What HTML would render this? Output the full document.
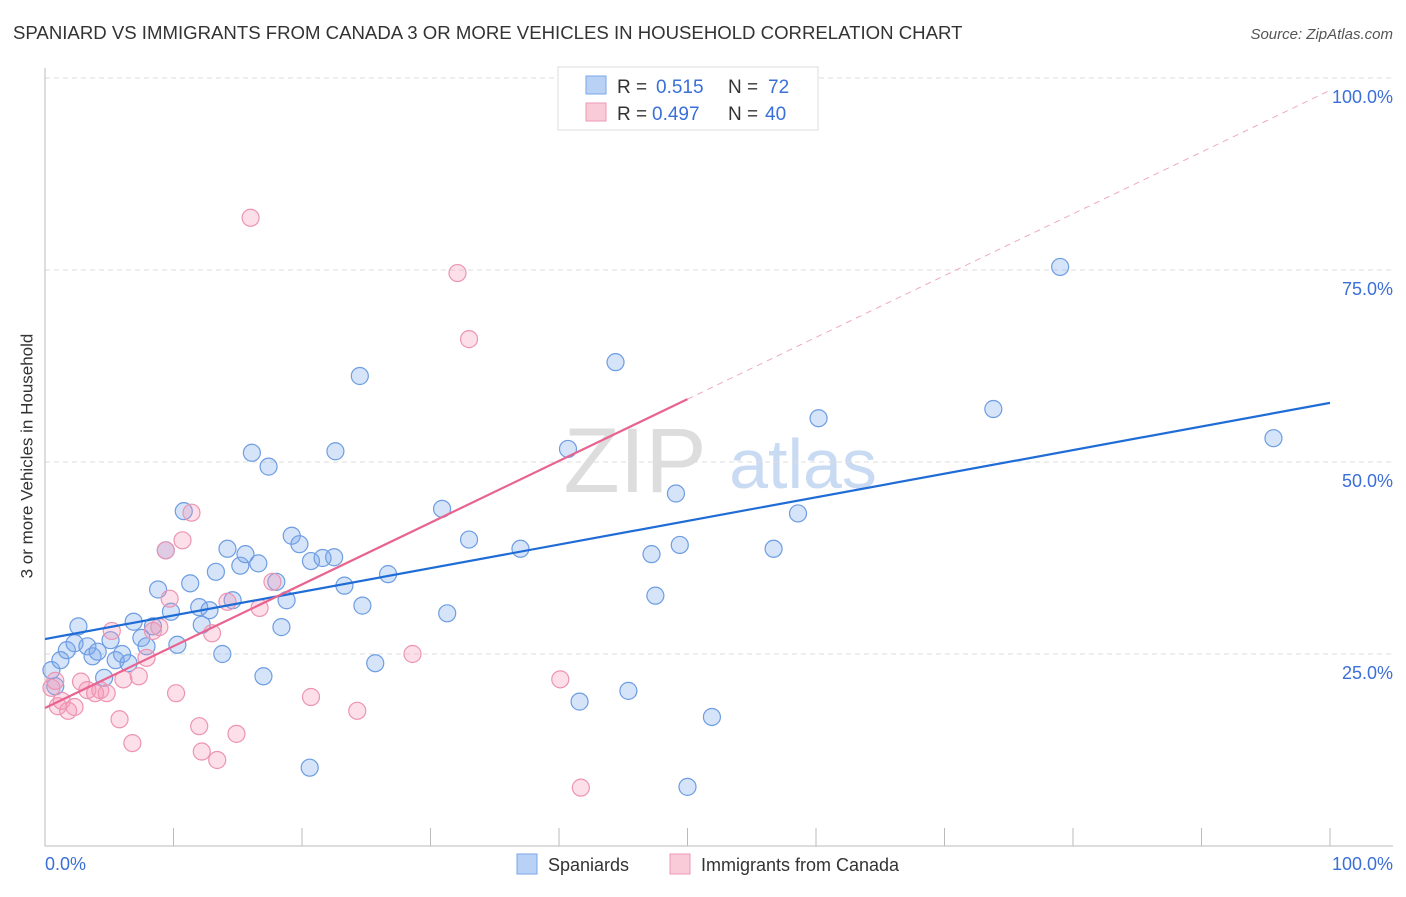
<!DOCTYPE html>
<html><head><meta charset="utf-8"><style>
body{margin:0;background:#fff;font-family:"Liberation Sans",sans-serif;}
svg text{font-family:"Liberation Sans",sans-serif;}
</style></head><body>
<svg id="c" width="1406" height="892">
<text x="13" y="39" font-size="18.6" fill="#333">SPANIARD VS IMMIGRANTS FROM CANADA 3 OR MORE VEHICLES IN HOUSEHOLD CORRELATION CHART</text>
<text x="1393" y="39" font-size="15" fill="#555" font-style="italic" text-anchor="end">Source: ZipAtlas.com</text>
<g><text x="635" y="492" font-size="92" fill="#ddd" font-family="Liberation Serif" text-anchor="middle">ZIP</text><text x="803" y="488" font-size="70" fill="#c9daf3" text-anchor="middle">atlas</text></g>
<g id="grid"></g><g id="marks"></g>
<text x="28" y="456" font-size="17" fill="#333" transform="rotate(-90 28 456)" text-anchor="middle" dominant-baseline="middle">3 or more Vehicles in Household</text>
<text x="45" y="870" font-size="18" fill="#3a6fd8">0.0%</text>
<text x="1393" y="870" font-size="18" fill="#3a6fd8" text-anchor="end">100.0%</text>
<g>
<rect x="558" y="67" width="260" height="63" fill="#fff" stroke="#ddd"/>
<rect x="586" y="76" width="20" height="18" fill="#b9d1f5" stroke="#7aa6e8"/>
<rect x="586" y="103" width="20" height="18" fill="#f9cbd9" stroke="#ef9ab5"/>
<text y="93" font-size="19" fill="#333"><tspan x="617">R =</tspan><tspan x="656" fill="#3a6fd8">0.515</tspan><tspan x="728">N =</tspan><tspan x="768" fill="#3a6fd8">72</tspan></text>
<text y="120" font-size="19" fill="#333"><tspan x="617">R =</tspan><tspan x="652" fill="#3a6fd8">0.497</tspan><tspan x="728">N =</tspan><tspan x="765" fill="#3a6fd8">40</tspan></text>
</g>
<g>
<rect x="517" y="854" width="20" height="20" fill="#b9d1f5" stroke="#7aa6e8"/><text x="548" y="871" font-size="18" fill="#333">Spaniards</text>
<rect x="670" y="854" width="20" height="20" fill="#f9cbd9" stroke="#ef9ab5"/><text x="701" y="871" font-size="18" fill="#333">Immigrants from Canada</text>
</g>
</svg>
<script>
const yTicks=[25,50,75,100];
const yTickLabels=["25.0%","50.0%","75.0%","100.0%"];
const blueX=[0.5,0.8,1.2,1.7,2.3,2.6,3.3,3.7,4.1,4.6,5.1,5.5,6.0,6.5,6.9,7.5,7.9,8.4,8.8,9.4,9.8,10.3,10.8,11.3,12.0,12.2,12.8,13.3,13.8,14.2,14.6,15.2,15.6,16.1,16.6,17.0,17.4,18.0,18.4,18.8,19.2,19.8,20.7,20.6,21.6,22.5,22.6,23.3,24.5,24.7,25.7,26.7,30.9,31.3,33.0,37.0,40.7,41.6,44.4,45.4,47.2,47.5,49.1,49.4,50.0,51.9,56.7,58.6,60.2,73.8,79.0,95.6];
const blueY=[22.9,20.8,24.2,25.5,26.4,28.6,26.0,24.7,25.3,21.9,26.8,24.2,25.0,23.8,29.2,27.1,26.0,28.6,33.4,38.5,30.5,26.2,43.6,34.2,31.1,28.8,30.7,35.7,25.0,38.7,32.0,36.5,38.0,51.2,36.8,22.1,49.4,34.4,28.5,32.0,40.4,39.3,37.1,10.2,37.5,37.6,51.4,33.9,61.2,31.3,23.8,35.4,43.9,30.3,39.9,38.7,51.7,18.8,63.0,20.2,38.0,32.6,45.9,39.2,7.7,16.8,38.7,43.3,55.7,56.9,75.4,53.1];
const pinkX=[0.5,0.8,1.0,1.3,1.8,2.3,2.8,3.3,3.9,4.3,4.8,5.2,5.8,6.1,6.8,7.3,7.9,8.4,8.9,9.4,9.7,10.2,10.7,11.4,12.0,12.2,13.0,13.4,14.2,14.9,16.0,16.7,17.7,20.7,24.3,28.6,32.1,33.0,40.1,41.7];
const pinkY=[20.6,21.5,18.2,18.9,17.6,18.1,21.4,20.3,19.9,20.3,19.9,28.0,16.5,21.7,13.4,22.1,24.5,28.0,28.5,38.5,32.2,19.9,39.8,43.4,15.6,12.3,27.7,11.2,31.8,14.6,81.8,31.0,34.4,19.4,17.6,25.0,74.6,66.0,21.7,7.6];
const blueLine=[26.95,57.7];
const pinkLine=[17.97,98.4];
const pinkSolidEnd=50;
const X0=45,X1=1330,Y0=846,Y1=78;
const sx=v=>X0+(X1-X0)*v/100, sy=v=>Y0-(Y0-Y1)*v/100;
const NS="http://www.w3.org/2000/svg";
const grid=document.getElementById('grid'), marks=document.getElementById('marks');
function mk(tag,attrs,parent){const e=document.createElementNS(NS,tag);for(const k in attrs)e.setAttribute(k,attrs[k]);parent.appendChild(e);return e;}
yTicks.forEach((t,i)=>{
 const l=mk('line',{x1:45,x2:1393,y1:sy(t),y2:sy(t),stroke:'#ddd','stroke-dasharray':'5,4'},grid);
 
 
 const tx=mk('text',{x:1393,y:sy(t)+25,'font-size':18,fill:'#3a6fd8','text-anchor':'end'},grid);
 tx.textContent=yTickLabels[i];
 
 
});
const ax=mk('path',{d:'M45 68V846H1393',stroke:'#bbb',fill:'none'},grid);


for(let i=1;i<=10;i++){const t=mk('line',{x1:sx(i*10),x2:sx(i*10),y1:828,y2:846,stroke:'#bbb'},grid);
 
 }
function dots(xs,ys,fill,stroke,name){xs.forEach((x,i)=>{const c=mk('circle',{cx:sx(x),cy:sy(ys[i]),r:8.5,fill:fill,stroke:stroke,'stroke-width':1.2},marks);
 
 });}
dots(blueX,blueY,'rgba(120,165,235,0.3)','#6d9de2','spaniard-point');
dots(pinkX,pinkY,'rgba(245,150,180,0.3)','#ec95b2','canada-point');
const bl=mk('line',{x1:sx(0),y1:sy(blueLine[0]),x2:sx(100),y2:sy(blueLine[1]),stroke:'#1f6cd6','stroke-width':2.2},marks);


const pv=x=>pinkLine[0]+(pinkLine[1]-pinkLine[0])*x/100;
const pl=mk('line',{x1:sx(0),y1:sy(pv(0)),x2:sx(pinkSolidEnd),y2:sy(pv(pinkSolidEnd)),stroke:'#e8648f','stroke-width':2.2},marks);


const pd=mk('line',{x1:sx(pinkSolidEnd),y1:sy(pv(pinkSolidEnd)),x2:sx(100),y2:sy(pv(100)),stroke:'#eeaabf','stroke-width':1,'stroke-dasharray':'6,5'},marks);


</script>
</body></html>
